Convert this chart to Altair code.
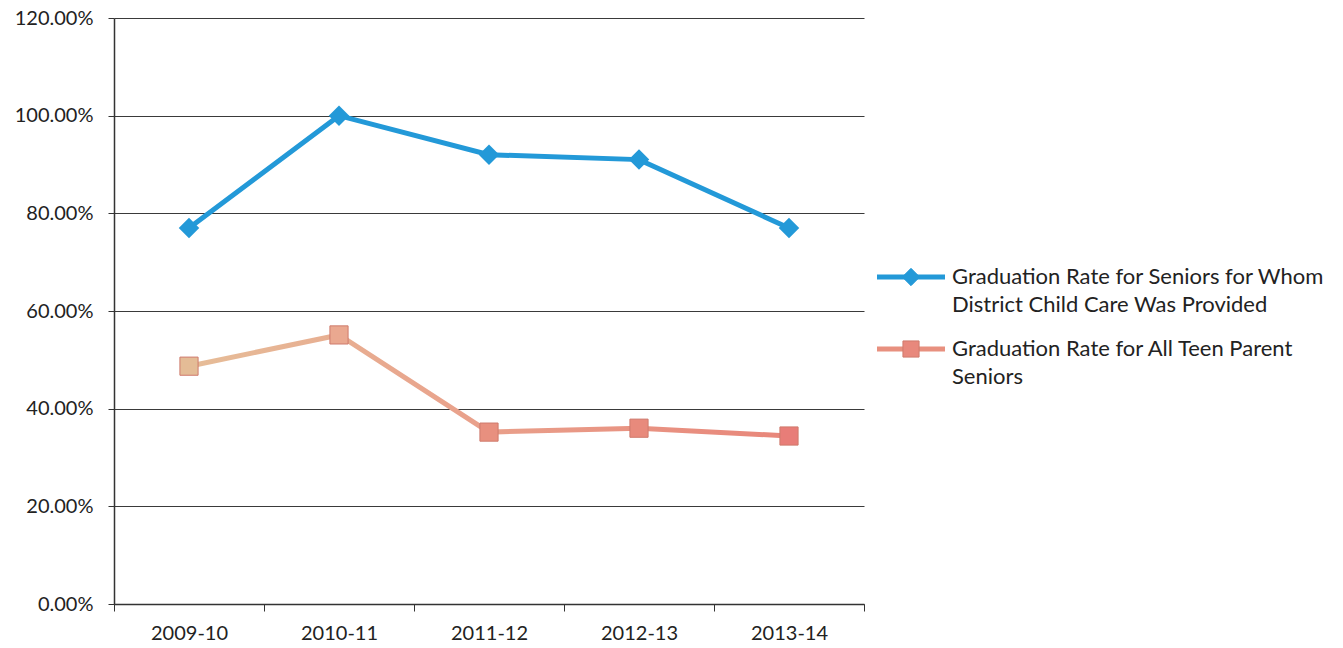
import altair as alt
import pandas as pd

# School years on the x axis
years = ["2009-10", "2010-11", "2011-12", "2012-13", "2013-14"]

# Graduation rates (fraction of seniors)
child_care_rate = [0.77, 1.00, 0.92, 0.91, 0.77]
teen_parent_rate = [0.487, 0.551, 0.352, 0.360, 0.344]

series_child_care = "Graduation Rate for Seniors for Whom District Child Care Was Provided"
series_teen_parent = "Graduation Rate for All Teen Parent Seniors"

# Tick values for the percentage axis
y_ticks = [0, 0.2, 0.4, 0.6, 0.8, 1.0, 1.2]

blue = "#2399d8"
salmon = "#e8867a"
# square fills shade from tan towards salmon across the years
teen_fills = ["#e4bc96", "#eaa890", "#e8907f", "#e88a7c", "#e87d78"]

FONT = "Lato"

df_cc = pd.DataFrame({"year": years, "rate": child_care_rate, "series": series_child_care})
df_tp = pd.DataFrame({"year": years, "rate": teen_parent_rate, "series": series_teen_parent})

x_enc = alt.X(
    "year:N",
    sort=years,
    scale=alt.Scale(paddingInner=0, paddingOuter=0, align=0.5),
    axis=alt.Axis(
        title=None,
        labelAngle=0,
        labelFont=FONT,
        labelFontSize=20,
        labelColor="#222",
        labelPadding=12,
        domainColor="#333",
        domainWidth=1.5,
        tickColor="#333",
        tickSize=7,
        tickBand="extent",
        grid=False,
    ),
)
y_enc = alt.Y(
    "rate:Q",
    scale=alt.Scale(domain=[0, 1.2], nice=False, zero=True),
    axis=alt.Axis(
        title=None,
        values=y_ticks,
        format=".2%",
        labelFont=FONT,
        labelFontSize=20,
        labelColor="#222",
        labelPadding=15,
        domainColor="#333",
        domainWidth=1.5,
        tickColor="#333",
        tickSize=6,
        grid=True,
        gridColor="#3a3a3a",
        gridWidth=1,
    ),
)

cc_line = alt.Chart(df_cc).mark_line(color=blue, strokeWidth=5).encode(x=x_enc, y=y_enc)
cc_pts = alt.Chart(df_cc).mark_point(
    shape="diamond", filled=True, size=420, color=blue, opacity=1
).encode(x=x_enc, y=y_enc)

tp_line = alt.Chart(df_tp).mark_line(
    strokeWidth=5,
    stroke=alt.Gradient(
        gradient="linear",
        stops=[
            alt.GradientStop(color="#e6bd98", offset=0),
            alt.GradientStop(color="#e9a28c", offset=0.45),
            alt.GradientStop(color=salmon, offset=1),
        ],
        x1=0, x2=1, y1=0, y2=0,
    ),
).encode(x=x_enc, y=y_enc)
tp_pts = alt.Chart(df_tp).mark_square(
    size=330, opacity=1, stroke="#cf7a6c", strokeWidth=1
).encode(
    x=x_enc,
    y=y_enc,
    fill=alt.Fill("year:N", scale=alt.Scale(domain=years, range=teen_fills), legend=None),
)

# Hand-drawn legend to the right of the plot
legend_cc = pd.DataFrame({"label": ["Graduation Rate for Seniors for Whom|District Child Care Was Provided"]})
legend_tp = pd.DataFrame({"label": ["Graduation Rate for All Teen Parent|Seniors"]})


def legend_entry(df, y, color, shape, size, fill=None, stroke=None):
    rule = alt.Chart(df).mark_rule(color=color, strokeWidth=5).encode(
        x=alt.value(763), x2=alt.value(831), y=alt.value(y)
    )
    pt = alt.Chart(df).mark_point(
        shape=shape, filled=True, size=size, color=fill or color, opacity=1,
        stroke=stroke or (fill or color), strokeWidth=1,
    ).encode(x=alt.value(797), y=alt.value(y))
    txt = alt.Chart(df).mark_text(
        align="left", baseline="middle", font=FONT, fontSize=22, color="#222",
        lineBreak="|", lineHeight=28,
    ).encode(x=alt.value(838), y=alt.value(y), text="label:N")
    return rule + pt + txt


leg1 = legend_entry(legend_cc, 259, blue, "diamond", 300)
leg2 = legend_entry(legend_tp, 331, "#e8907f", "square", 260, fill="#e8887c", stroke="#cf7a6c")

chart = (
    alt.layer(tp_line, tp_pts, cc_line, cc_pts, leg1, leg2)
    .properties(
        width=750,
        height=586,
        autosize=alt.AutoSizeParams(type="none"),
        padding={"left": 114, "top": 18, "right": 479, "bottom": 44},
        background="white",
    )
    .configure_view(stroke=None)
)

chart.save("out.html", embed_options={"renderer": "svg", "actions": False})
